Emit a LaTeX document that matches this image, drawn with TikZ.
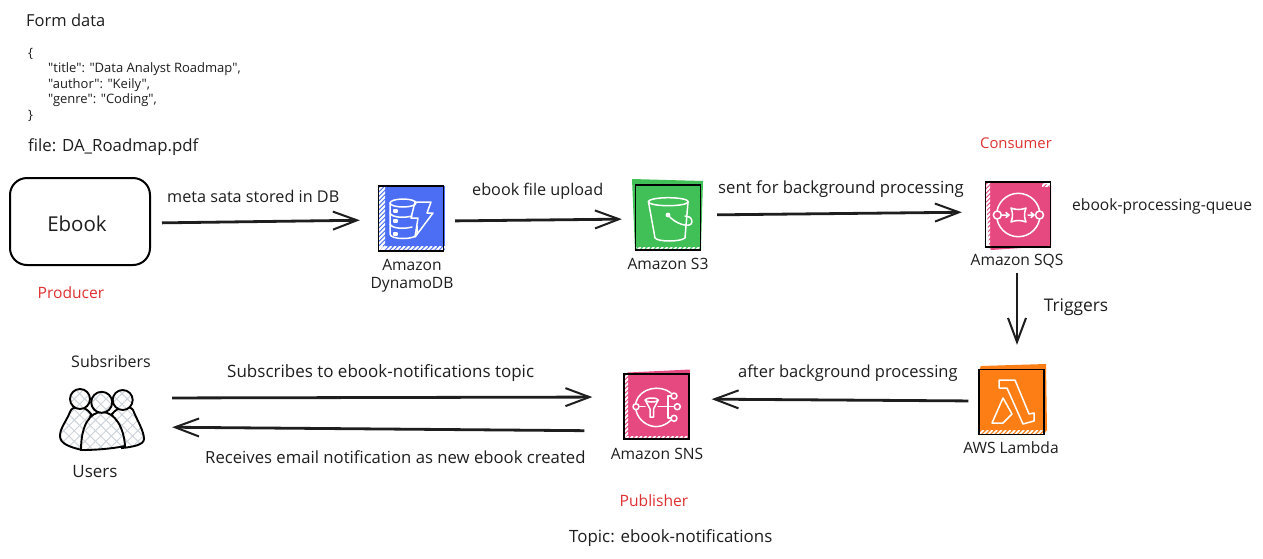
\documentclass[tikz,border=0pt]{standalone}
\usepackage{fontspec}
\setmainfont{Open Sans}
\newfontfamily\codefont{Open Sans}
\usetikzlibrary{arrows.meta,patterns.meta}
\definecolor{ink}{HTML}{1E1E1E}
\definecolor{redlab}{HTML}{E03131}
\definecolor{awsblue}{HTML}{4C6EF5}
\definecolor{awsgreen}{HTML}{40C057}
\definecolor{awspink}{HTML}{E64980}
\definecolor{awsorange}{HTML}{FD7E14}
\definecolor{hatchc}{HTML}{CED4DA}
\tikzset{
  x=1pt,y=-1pt,
  fs/.style={font=\fontsize{#1}{18}\selectfont},
  lab/.style={inner sep=0pt,text=ink,yshift=-1pt,fs=15.6},
  codelab/.style={inner sep=0pt,text=ink,yshift=-1.5pt,font=\codefont\fontsize{13}{14}\selectfont,anchor=west},
  redl/.style={lab,text=redlab},
  iconbox/.style={draw=black,line width=1.4pt,minimum size=65pt,inner sep=0pt},
  conn/.style={draw=ink,line width=2.8pt,-{Straight Barb[length=24pt,width=18pt,line width=2pt]}},
  glyph/.style={draw=white,line width=1.5pt,line join=round,line cap=round},
  bodyfill/.style={draw=black,line width=1.9pt,preaction={fill=white},
    preaction={pattern={Lines[angle=45,distance=7.5pt,line width=1pt]},pattern color=hatchc},
    preaction={pattern={Lines[angle=-45,distance=7.5pt,line width=1pt]},pattern color=hatchc}},
}
\newcommand\iconstripes[4]{%
  \begin{scope}
    \clip (#1,#2) rectangle (#3,#4);
    \foreach \k in {0,4.5,...,170}{\draw[white,line width=1.8pt] ({#1+\k},{#2}) -- ({#1+\k-85},{#2+85});}
  \end{scope}}
\begin{document}
\begin{tikzpicture}
\useasboundingbox (0,0) rectangle (1263,558);
\fill[white] (0,0) rectangle (1263,558);

% colour fills
\fill[awsblue] (378,186) rectangle (445,251);
\iconstripes{378}{186}{385}{251}
\iconstripes{378}{246}{445}{251}
\fill[awsgreen] (632,179) -- (703,181) -- (701,247) -- (701,250) -- (635,250) -- cycle;
\iconstripes{636}{247}{700}{250}
\fill[awspink] (985,182) -- (1043,183) -- (1051,186) -- (1051,246) -- (991,250) -- (989,246) -- cycle;
\iconstripes{985}{183}{990}{247}
\iconstripes{1042}{182}{1051}{186}
\fill[awspink] (628,372.5) -- (690,369.5) -- (689,439) -- (624,439) -- (624,374) -- cycle;
\iconstripes{624}{374}{628}{439}
\iconstripes{624}{436}{689}{439}
\fill[awsorange] (981,366) -- (1046,364) -- (1047,430) -- (1044,434) -- (979,434) -- (979,370) -- cycle;
\iconstripes{979}{430}{1044}{434}

% glyphs
% DynamoDB
\draw[glyph] (403,203) ellipse (13 and 4);
\draw[glyph] (390,203) -- (390,234) .. controls (390,240) and (416,240) .. (417,234) -- (417,226);
\draw[glyph] (390,213) .. controls (392,218) and (405,218) .. (412,216);
\draw[glyph] (390,224) .. controls (392,229) and (405,229) .. (412,227);
\draw[glyph] (394,210) rectangle (397,212);
\draw[glyph] (394,220) rectangle (397,222);
\draw[glyph] (394,233) rectangle (397,235);
\draw[glyph] (415,202) -- (431,202) -- (427,213) -- (433,213) -- (415,237) -- (418,218) -- (411,218) -- cycle;
% S3 bucket
\draw[glyph] (668.3,201.7) ellipse (20 and 4);
\draw[glyph] (648.5,202) -- (655,238) .. controls (658,242) and (680,242) .. (685,238) -- (688,202);
\fill[white] (668,215) circle (2.4);
\draw[glyph] (668,215) .. controls (675,224) and (691,229) .. (692,222) .. controls (692,217) and (688,216) .. (685,216);
% SQS
\draw[glyph] (1018.3,215) circle (21.7);
\draw[glyph,fill=awspink] (997.3,215) circle (4);
\draw[glyph,fill=awspink] (1039.5,215) circle (4);
\draw[glyph] (1011,208) .. controls (1016,210) and (1021,210) .. (1026,208) .. controls (1024,213) and (1024,217) .. (1026,222) .. controls (1021,220) and (1016,220) .. (1011,222) .. controls (1013,217) and (1013,213) .. (1011,208) -- cycle;
\draw[glyph] (1002,215) -- (1009,215) (1006,212.5) -- (1009,215) -- (1006,217.5);
\draw[glyph] (1028,215) -- (1034,215) (1031,212.5) -- (1034,215) -- (1031,217.5);
% SNS
\draw[glyph] (671,393) .. controls (660,384) and (640,388) .. (636,402) .. controls (632,420) and (655,436) .. (671,420);
\draw[glyph,fill=awspink] (636,406.7) circle (3);
\draw[glyph,fill=awspink] (674,396) circle (3);
\draw[glyph,fill=awspink] (677.3,406.7) circle (3);
\draw[glyph,fill=awspink] (674,418.3) circle (3);
\draw[glyph] (639,406.7) -- (645,406.7);
\draw[glyph] (658,406.7) -- (674,406.7);
\draw[glyph] (671,396) -- (668,396) -- (668,418) -- (671,418);
\draw[glyph] (651.7,400) ellipse (6.5 and 2);
\draw[glyph] (645.2,400) -- (650,409) -- (650,417) -- (653.5,417) -- (653.5,409) -- (658.2,400);
% Lambda
\draw[glyph] (999,380) -- (1015,380) -- (1029,414) -- (1034,413) -- (1034,421) -- (1023,424) -- (1007,388) -- (999,388) -- cycle;
\draw[glyph] (1003,398) -- (1012,414) -- (1003,423) -- (992,423) -- cycle;

% icon boxes
\node[iconbox] (ddb) at (411,218.5) {};
\node[iconbox] (s3) at (668,217.5) {};
\node[iconbox] (sqs) at (1018,214.5) {};
\node[iconbox] (sns) at (656.5,406.5) {};
\node[iconbox] (lambda) at (1011.5,402) {};
\node[draw=black,line width=2pt,rounded corners=17pt,minimum width=140pt,minimum height=87pt,inner sep=0pt] (ebook) at (80,221.5) {};
\node[lab,fs=20.5] (ebooklab) at (77,223) {Ebook};

% users
\node[minimum width=84pt,minimum height=62pt,inner sep=0pt] (users) at (102,420) {};
\draw[bodyfill] (91,414) .. controls (85,405) and (72,405) .. (70,412) .. controls (66,422) and (60,428) .. (60,436) .. controls (60,444) and (70,447) .. (82,450) -- cycle;
\draw[bodyfill] (112,414) .. controls (118,406) and (130,405) .. (133,410) .. controls (137,420) and (144,431) .. (144,439) .. controls (144,445) and (132,447) .. (122,448) -- cycle;
\draw[bodyfill] (80,399) circle (10);
\draw[bodyfill] (122.7,400) circle (10);
\draw[bodyfill] (81,450) .. controls (81,425) and (90,412) .. (102,412) .. controls (115,412) and (124,428) .. (125,446) .. controls (110,449) and (95,450) .. (81,450) -- cycle;
\draw[bodyfill] (101.7,402.3) circle (10.5);

% connectors
\draw[conn,shorten <=11pt,shorten >=18pt] ([yshift=-1.5pt]ebook.east) -- ([yshift=-1.5pt]ddb.west);
\draw[conn,shorten <=11pt,shorten >=13pt] ([yshift=-2.5pt]ddb.east) -- ([yshift=-1.5pt]s3.west);
\draw[conn,shorten <=16pt,shorten >=23pt] ([yshift=2.5pt]s3.east) -- ([yshift=2.5pt]sqs.west);
\draw[conn,shorten <=25pt,shorten >=24pt] ([xshift=-1pt]sqs.south) -- ([xshift=5.5pt]lambda.north);
\draw[conn,shorten <=10pt,shorten >=22pt] ([yshift=1pt]lambda.west) -- ([yshift=7.5pt]sns.east);
\draw[conn,shorten <=28pt,shorten >=31pt] ([yshift=22pt]users.east) -- ([yshift=9.5pt]sns.west);
\draw[conn,shorten <=39pt,shorten >=28pt] ([yshift=-24.5pt]sns.west) -- ([yshift=-7pt]users.east);

% texts
\node[lab,fs=16.5,anchor=west] (formdata) at (26,19) {Form data};
\node[codelab] (c1) at (28,52) {\{};
\node[codelab] (c2) at (48,68) {"title": "Data Analyst Roadmap",};
\node[codelab] (c3) at (48,84) {"author": "Keily",};
\node[codelab] (c4) at (48,99) {"genre": "Coding",};
\node[codelab] (c5) at (28,114) {\}};
\node[lab,fs=16.8,anchor=west] (filelab) at (28,146) {file: DA\_Roadmap.pdf};
\node[lab,fs=16.2,anchor=west] (l1) at (167,195) {meta sata stored in DB};
\node[redl] (producer) at (71,292) {Producer};
\node[lab] (ddb1) at (412,264) {Amazon};
\node[lab] (ddb2) at (412,284) {DynamoDB};
\node[lab,fs=16.2,anchor=west] (l2) at (472,190) {ebook file upload};
\node[lab] (s3lab) at (668,263) {Amazon S3};
\node[lab,fs=16.7,anchor=west] (l3) at (718,188) {sent for background processing};
\node[redl,fs=14.8] (consumer) at (1016,142) {Consumer};
\node[lab,anchor=west] (queue) at (1072,205) {ebook-processing-queue};
\node[lab] (sqslab) at (1017,260) {Amazon SQS};
\node[lab,fs=17.4] (triggers) at (1076,306) {Triggers};
\node[lab,fs=16.5,anchor=west] (l5) at (738,372) {after background processing};
\node[lab,fs=17,anchor=west] (l6) at (227,372) {Subscribes to ebook-notifications topic};
\node[lab,fs=16.7,anchor=west] (l7) at (205,456) {Receives email notification as new ebook created};
\node[lab,fs=16] (subs) at (111,360) {Subsribers};
\node[lab,fs=17] (userslab) at (95,471) {Users};
\node[lab] (snslab) at (657,453) {Amazon SNS};
\node[lab] (lamlab) at (1011,447) {AWS Lambda};
\node[redl] (publisher) at (654,500) {Publisher};
\node[lab,fs=16.9,anchor=west] (topic) at (569,537) {Topic: ebook-notifications};
\end{tikzpicture}
\end{document}
